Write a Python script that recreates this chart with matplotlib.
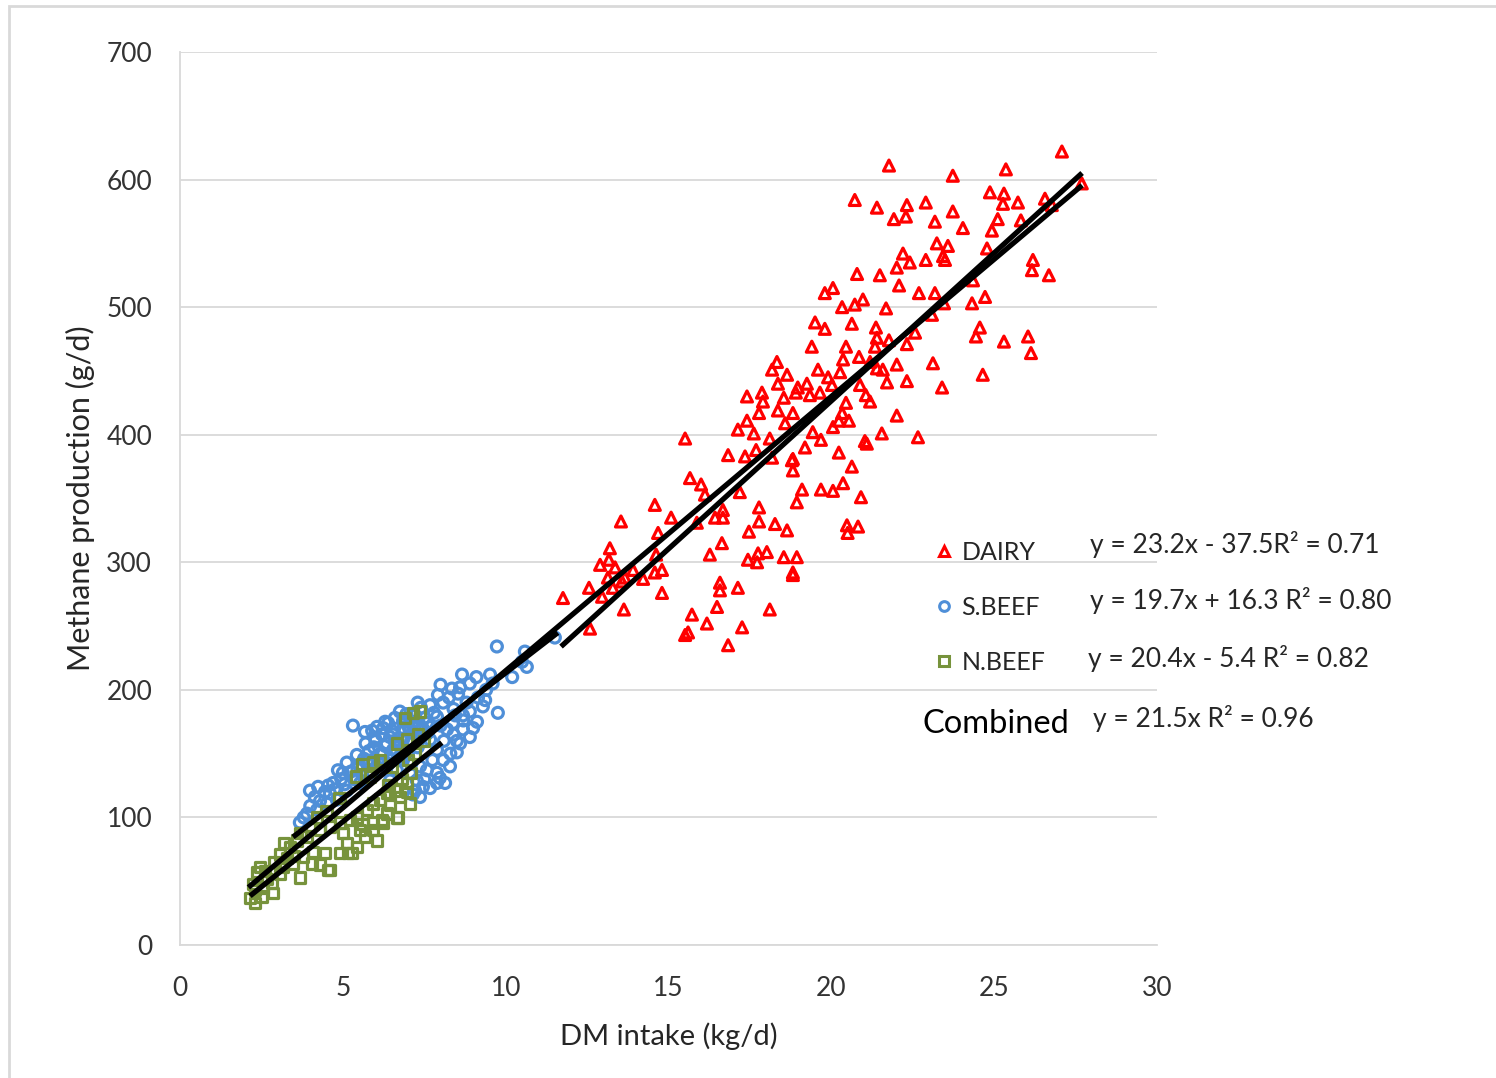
import matplotlib
matplotlib.use("Agg")
import matplotlib.pyplot as plt
import numpy as np
from matplotlib.lines import Line2D
from matplotlib.patches import Rectangle

# ---------------- data ----------------
dairy_x = [27.08,21.77,23.73,25.36,27.69,20.72,21.40,22.32,22.90,21.92,22.29,23.73,24.87,25.30,25.27,25.73,26.56,23.18,24.04,25.11,
           24.93,25.82,26.77,22.20,22.41,22.90,23.24,23.58,23.43,23.49,24.78,22.01,20.79,21.49,22.08,22.69,23.18,19.80,20.05,20.33,
           20.72,20.97,21.68,24.32,24.72,26.19,26.16,26.68,24.35,23.46,23.09,19.50,19.80,20.63,21.37,21.40,21.34,21.77,22.32,22.57,
           24.56,24.44,25.30,26.04,26.13,19.40,20.45,20.36,20.85,21.19,21.40,22.01,23.12,19.59,20.27,19.90,21.58,21.71,22.32,24.65,
           23.40,19.25,19.65,20.88,
           18.33,18.18,18.64,18.36,18.97,20.02,17.41,17.87,17.90,18.54,18.91,19.34,21.06,21.19,20.45,17.78,18.36,18.82,17.41,18.58,
           20.33,20.23,20.54,20.05,22.01,17.13,17.62,18.11,19.43,19.68,21.55,21.03,21.09,22.66,15.51,16.83,17.35,17.69,19.19,20.23,
           18.82,20.63,
           19.10,19.68,20.05,20.36,20.91,20.48,20.50,20.82,
           18.18,18.79,18.82,15.66,16.00,16.12,17.19,18.94,14.58,15.08,13.54,15.87,16.43,16.67,16.67,17.78,17.78,17.47,18.27,18.64,
           14.68,16.64,16.27,13.20,12.90,13.17,13.36,13.14,14.62,14.58,14.80,13.91,13.66,14.22,12.56,13.29,13.57,12.96,14.80,11.76,
           17.44,17.72,18.02,18.54,18.94,18.82,18.82,17.75,16.58,16.58,17.13,16.49,18.11,15.72,16.18,13.63,12.59,15.51,15.60,17.26,
           16.83]
dairy_y = [622,611,603,608,597,584,578,580,582,569,571,575,590,589,581,582,585,567,562,569,
           560,568,580,542,535,537,550,548,540,537,546,531,526,525,517,511,511,511,515,500,
           502,506,499,503,508,537,529,525,521,503,494,488,483,487,484,476,469,474,471,480,
           484,477,473,477,464,469,469,459,461,457,452,455,456,451,449,445,451,441,442,447,
           437,440,433,439,
           457,451,447,440,437,439,430,433,426,429,433,431,431,426,425,417,419,417,411,409,
           417,411,411,406,415,404,401,397,402,396,401,395,393,398,397,384,383,388,390,386,
           381,375,
           357,357,356,362,351,329,323,328,
           382,380,372,366,361,353,355,347,345,335,332,331,335,341,335,343,332,324,330,325,
           323,315,306,311,298,302,296,288,306,292,294,294,288,287,280,280,285,273,276,272,
           302,300,308,304,304,292,290,307,284,278,280,265,263,259,252,263,248,243,245,249,
           235]

sbeef_x = [9.73,10.59,10.65,9.52,8.66,8.90,8.60,8.35,7.92,8.26,8.54,8.08,7.68,9.15,9.37,9.30,9.76,9.12,8.69,8.90,
           8.38,8.20,8.69,8.90,8.60,8.50,8.29,8.14,7.89,7.68,7.46,7.22,7.15,7.37,5.31,5.68,5.99,6.24,6.39,6.85,
           7.22,6.75,6.24,5.43,5.12,5.00,4.70,3.99,4.24,4.14,4.60,3.68,3.90,4.21,4.51,4.82,5.12,5.53,5.83,6.04,
           6.54,6.85,7.15,7.58,7.68,7.89,7.37,7.58,7.06,7.27,7.89,8.08,6.85,6.66,6.45,11.51,7.98,7.89,
           6.00,6.20,6.50,7.00,7.20,6.60,6.30,5.80,5.50,5.25,4.95,4.45,7.50,7.80,6.95,7.10,7.60,7.30,7.00,6.70,
           5.90,6.10,5.60,8.00,8.40,8.80,7.40,6.60,8.10,8.40,7.75,8.30,7.50,7.10,6.40,5.70,6.90,7.40,8.70,9.00,
           6.30,5.90,4.30,4.00,3.80,4.75,5.35,8.50,9.40,9.60,10.20,10.50,9.10,8.00,7.30,7.70,8.45,
           5.65,5.95,6.15,6.45,6.75,7.05,7.35,6.05,6.35,6.65,6.95,5.45,5.75,4.55,4.85,5.05,6.55,6.85,7.15,7.45]
sbeef_y = [234,230,218,212,212,205,202,201,196,194,197,190,188,194,192,187,182,175,180,183,
           174,169,169,163,158,151,140,127,127,123,124,121,118,116,172,167,162,170,174,176,
           180,183,150,149,143,135,127,121,124,116,119,96,103,106,111,114,121,127,132,140,
           153,161,166,174,161,153,140,137,135,129,135,145,145,137,129,241,131,179,
           160,165,168,172,170,160,156,152,141,136,130,120,178,182,181,160,166,155,150,147,
           145,137,133,172,185,190,186,178,160,165,145,150,130,142,142,158,168,162,176,170,
           175,168,113,109,100,122,130,160,200,205,210,222,210,204,190,171,180,
           146,155,150,163,156,168,173,171,158,152,175,138,144,125,137,126,165,170,175,170]

nbeef_x = [4.60,4.91,4.45,5.16,5.43,5.12,5.68,5.93,5.53,6.24,6.04,6.66,6.35,7.06,6.45,6.75,6.97,4.08,3.78,4.05,
           4.30,3.47,3.07,3.07,2.67,2.36,2.30,2.15,2.30,2.55,2.82,2.86,3.16,3.38,3.59,3.90,4.30,4.60,4.91,5.22,
           5.43,5.74,5.93,6.14,6.35,6.60,6.97,3.29,2.46,3.68,7.37,7.15,6.90,6.66,6.14,5.83,5.40,6.97,7.30,7.50,
           5.93,5.60,6.70,5.93,6.20,5.28,4.54,7.00,6.50,7.20,4.90,4.50,4.20,3.70,3.20,2.90,2.60,2.25,2.50,3.50,
           7.10,6.80,6.40,5.00,5.60]
nbeef_y = [59,72,72,72,77,80,85,90,90,96,82,100,103,111,110,116,120,73,69,64,
           63,64,71,56,52,57,43,37,33,45,49,41,61,77,82,85,90,93,96,98,
           100,106,111,114,119,121,127,68,61,53,183,182,178,158,145,132,132,161,165,160,
           143,142,100,96,98,72,59,145,140,150,115,105,100,88,80,65,58,48,38,70,
           135,130,125,88,95]

series_names = ["DAIRY", "S.BEEF", "N.BEEF"]
equation_texts = ["y = 23.2x - 37.5R\u00b2 = 0.71",
                  "y = 19.7x + 16.3 R\u00b2 = 0.80",
                  "y = 20.4x - 5.4 R\u00b2 = 0.82"]
combined_label = "Combined"
combined_text = "y = 21.5x R\u00b2 = 0.96"

# trendlines: slope, intercept, x-range
trend_slope = [23.2, 19.7, 20.4, 21.5]
trend_icept = [-37.5, 16.3, -5.4, 0.0]
trend_xmin = [11.7, 3.47, 2.15, 2.1]
trend_xmax = [27.7, 11.6, 8.04, 27.7]

x_ticks = [0, 5, 10, 15, 20, 25, 30]
y_ticks = [0, 100, 200, 300, 400, 500, 600, 700]

# ---------------- style ----------------
plt.rcParams['font.family'] = ['Lato', 'DejaVu Sans']
RED = '#FF0000'
BLUE = '#4F8FD8'
GREEN = '#77933C'
GRID = '#D9D9D9'

W, H = 1496, 1078
fig = plt.figure(figsize=(W/100, H/100), dpi=100)
ax = fig.add_axes([180/W, 1-945/H, (1157-180)/W, (945-52)/H])

ax.scatter(dairy_x, dairy_y, marker='^', s=62, facecolors='none', edgecolors=RED, linewidths=2.3, zorder=3)
ax.scatter(sbeef_x, sbeef_y, marker='o', s=62, facecolors='none', edgecolors=BLUE, linewidths=2.3, zorder=3)
ax.scatter(nbeef_x, nbeef_y, marker='s', s=55, facecolors='none', edgecolors=GREEN, linewidths=2.3, zorder=3)

for m, b, x0, x1 in zip(trend_slope, trend_icept, trend_xmin, trend_xmax):
    xs = np.array([x0, x1])
    ax.plot(xs, m*xs + b, color='black', lw=3.8, solid_capstyle='butt', zorder=4)

ax.set_xlim(0, 30)
ax.set_ylim(0, 700)
ax.set_xticks(x_ticks)
ax.set_yticks(y_ticks)
ax.tick_params(axis='both', length=0, labelsize=19, colors='#333333')
ax.tick_params(axis='x', pad=22)
ax.tick_params(axis='y', pad=20)
ax.grid(axis='y', color=GRID, lw=1.3)
ax.set_axisbelow(True)
for s in ['top', 'right']:
    ax.spines[s].set_visible(False)
for s in ['left', 'bottom']:
    ax.spines[s].set_color(GRID)
    ax.spines[s].set_linewidth(1.3)

ax.set_xlabel("DM intake (kg/d)", fontsize=21, color='#262626', labelpad=16)
ax.set_ylabel("Methane production (g/d)", fontsize=22, color='#262626', labelpad=8)

# legend
handles = [Line2D([], [], ls='none', marker='^', ms=7.5, mfc='none', mec=RED, mew=2.2),
           Line2D([], [], ls='none', marker='o', ms=7, mfc='none', mec=BLUE, mew=2.2),
           Line2D([], [], ls='none', marker='s', ms=6.5, mfc='none', mec=GREEN, mew=2.2)]
leg = ax.legend(handles, series_names, loc='upper left', bbox_to_anchor=(934/W, 1-541/H),
                bbox_transform=fig.transFigure, frameon=False, fontsize=18,
                handlelength=0.8, handletextpad=0.3, labelspacing=1.28, borderpad=0, borderaxespad=0)
for t in leg.get_texts():
    t.set_color('#262626')

eq_pos = [(1090, 545), (1090, 601), (1088, 659)]
for (px, py), t in zip(eq_pos, equation_texts):
    fig.text(px/W, 1-py/H, t, fontsize=19, color='#262626', ha='left', va='center')
fig.text(923/W, 1-724/H, combined_label, fontsize=23.5, color='black', ha='left', va='center')
fig.text(1093/W, 1-719/H, combined_text, fontsize=19, color='#262626', ha='left', va='center')

# figure border
fig.add_artist(Rectangle((9/W, -0.05), 1.2, 1-6/H+0.05, transform=fig.transFigure,
                         fill=False, edgecolor='#D9D9D9', lw=2))

fig.savefig("out.png", dpi=100)
